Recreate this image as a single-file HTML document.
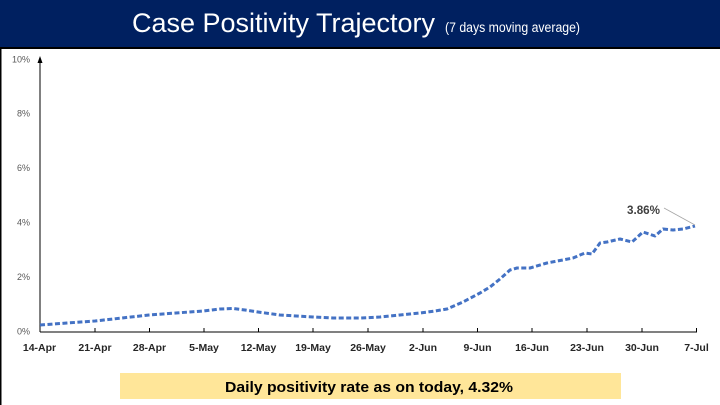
<!DOCTYPE html>
<html>
<head>
<meta charset="utf-8">
<style>
  html,body{margin:0;padding:0;background:#fff;}
  body{width:720px;height:405px;overflow:hidden;}
  svg{display:block;}
</style>
</head>
<body>
<svg width="720" height="405" viewBox="0 0 720 405" xmlns="http://www.w3.org/2000/svg">
  <!-- background -->
  <rect x="0" y="0" width="720" height="405" fill="#ffffff"/>
  <!-- title bar -->
  <rect x="0" y="0" width="720" height="47.5" fill="#002060"/>
  <rect x="0" y="47" width="720" height="2" fill="#000000"/>
  <rect x="0" y="48" width="1.5" height="357" fill="#000000"/>

  <text x="132" y="32" fill="#ffffff" font-family="'Liberation Sans', sans-serif" font-size="27" textLength="303" lengthAdjust="spacingAndGlyphs">Case Positivity Trajectory</text>
  <text x="445" y="32" fill="#ffffff" font-family="'Liberation Sans', sans-serif" font-size="13.5" textLength="135" lengthAdjust="spacingAndGlyphs">(7 days moving average)</text>

  <!-- y axis -->
  <line x1="40" y1="332" x2="40" y2="62" stroke="#000" stroke-width="1"/>
  <polygon points="40,56 37.5,63 42.5,63" fill="#000"/>
  <!-- x axis -->
  <line x1="40" y1="332" x2="697" y2="332" stroke="#000" stroke-width="1"/>
  <g stroke="#000" stroke-width="1">
    <line x1="95" y1="328" x2="95" y2="332"/>
    <line x1="149.5" y1="328" x2="149.5" y2="332"/>
    <line x1="204" y1="328" x2="204" y2="332"/>
    <line x1="258.5" y1="328" x2="258.5" y2="332"/>
    <line x1="313" y1="328" x2="313" y2="332"/>
    <line x1="368" y1="328" x2="368" y2="332"/>
    <line x1="423" y1="328" x2="423" y2="332"/>
    <line x1="477.5" y1="328" x2="477.5" y2="332"/>
    <line x1="532" y1="328" x2="532" y2="332"/>
    <line x1="587" y1="328" x2="587" y2="332"/>
    <line x1="642" y1="328" x2="642" y2="332"/>
    <line x1="696.5" y1="328" x2="696.5" y2="332"/>
  </g>

  <!-- y labels -->
  <g font-family="'Liberation Sans', sans-serif" font-size="9" fill="#595959" text-anchor="end">
    <text x="30" y="62.5">10%</text>
    <text x="30" y="116.5">8%</text>
    <text x="30" y="171">6%</text>
    <text x="30" y="225.5">4%</text>
    <text x="30" y="280">2%</text>
    <text x="30" y="334.5">0%</text>
  </g>

  <!-- x labels -->
  <g font-family="'Liberation Sans', sans-serif" font-size="10.5" font-weight="bold" fill="#262626" text-anchor="middle">
    <text x="39.5" y="351">14-Apr</text>
    <text x="95" y="351">21-Apr</text>
    <text x="149.5" y="351">28-Apr</text>
    <text x="204" y="351">5-May</text>
    <text x="258.5" y="351">12-May</text>
    <text x="313" y="351">19-May</text>
    <text x="368" y="351">26-May</text>
    <text x="423" y="351">2-Jun</text>
    <text x="477.5" y="351">9-Jun</text>
    <text x="532" y="351">16-Jun</text>
    <text x="587" y="351">23-Jun</text>
    <text x="642" y="351">30-Jun</text>
    <text x="696.5" y="351">7-Jul</text>
  </g>

  <!-- series -->
  <polyline fill="none" stroke="#4472C4" stroke-width="3" stroke-dasharray="5 2.5" stroke-linejoin="round"
    points="40,325 67,323 95,321 122,318 149,315 176,313 203,311 220,309 233,308.5 245,310 258,312 280,315 313,317 333,318 360,318 380,317 400,315 420,313 435,311 447,309 463,302 480,293 490,287 500,279 510,270 517,268 530,268 547,263 560,260.5 573,258 580,255 585,253 592,254 600,243 607,242 620,239 632,242 643,232 655,236 663,229 673,230 683,229 695,226"/>

  <!-- annotation -->
  <line x1="664" y1="208" x2="695" y2="225" stroke="#A6A6A6" stroke-width="0.8"/>
  <text x="627" y="214" font-family="'Liberation Sans', sans-serif" font-size="11.5" font-weight="bold" fill="#404040" textLength="33" lengthAdjust="spacingAndGlyphs">3.86%</text>

  <!-- yellow box -->
  <rect x="120" y="373" width="501" height="26" fill="#FFE699"/>
  <text x="225" y="392" font-family="'Liberation Sans', sans-serif" font-size="15" font-weight="bold" fill="#000" textLength="288" lengthAdjust="spacingAndGlyphs">Daily positivity rate as on today, 4.32%</text>
</svg>
</body>
</html>
